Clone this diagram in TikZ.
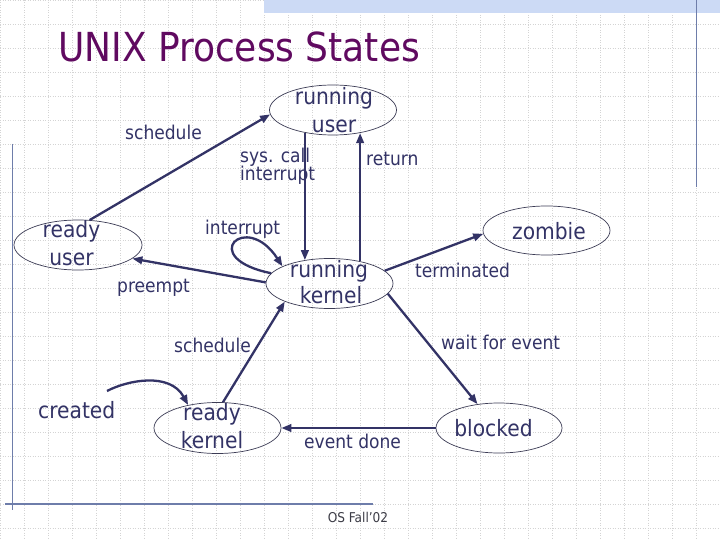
\documentclass[tikz,border=0pt]{standalone}
\usepackage{fontspec}
\setmainfont{DejaVu Sans Condensed}
\usetikzlibrary{shapes.geometric,arrows.meta}
\definecolor{navy}{RGB}{51,51,102}
\definecolor{ttl}{RGB}{96,10,96}
\definecolor{gridc}{RGB}{212,212,212}
\definecolor{band}{RGB}{204,218,245}
\definecolor{framec}{RGB}{110,125,170}
\definecolor{ell}{RGB}{60,60,85}
\definecolor{foot}{RGB}{60,60,70}
\begin{document}
\begin{tikzpicture}[x=1pt,y=-1pt,
  gridline/.style={draw=gridc, line width=0.5pt, dash pattern=on 1pt off 1.5pt},
  framel/.style={draw=framec, line width=1.3pt},
  state/.style={ellipse, draw=ell, line width=0.7pt, inner sep=0pt, minimum width=127pt, minimum height=50pt},
  stxt/.style={text=navy, font=\fontsize{22.5}{27}\selectfont, inner sep=0pt, anchor=base},
  lbl/.style={text=navy, font=\fontsize{19}{23}\selectfont, inner sep=0pt, anchor=base west},
  arr/.style={draw=navy, line width=2.3pt, -{Triangle[length=10pt,width=7.5pt]}},
  ]
\useasboundingbox (0,0) rectangle (720,540);
\fill[white] (0,0) rectangle (720,540);
% grid
\foreach \i in {0,...,30} \draw[gridline] (24*\i,0) -- (24*\i,540);
\foreach \j in {0,...,22} \draw[gridline] (0,24*\j) -- (720,24*\j);
% slide decoration
\fill[band] (264,0) rectangle (720,13);
\draw[framel] (696.5,0) -- (696.5,187);
\draw[framel] (12.5,144) -- (12.5,510);
\draw[framel] (5,504) -- (373,504);
% title
\node[anchor=base west, text=ttl, font=\fontsize{40}{48}\selectfont, inner sep=0pt] (title) at (58,62) {UNIX Process States};
% states
\node[state] (runu) at (333,110) {};
\node[state, minimum width=128pt] (ruser) at (78,245) {};
\node[state] (rk) at (329.5,283.5) {};
\node[state, minimum height=49pt] (zomb) at (546.5,230.5) {};
\node[state, minimum height=51pt] (rkern) at (217.5,428) {};
\node[state, minimum width=126pt] (blk) at (499,428) {};
% state texts
\node[stxt] (runu1) at (334,105) {running};
\node[stxt] (runu2) at (334,133) {user};
\node[stxt] (ruser1) at (71.5,237) {ready};
\node[stxt] (ruser2) at (71.5,265) {user};
\node[stxt] (rk1) at (329,277) {running};
\node[stxt] (rk2) at (331,303) {kernel};
\node[stxt] (zomb1) at (549,240) {zombie};
\node[stxt] (rkern1) at (212,420) {ready};
\node[stxt] (rkern2) at (212,448) {kernel};
\node[stxt] (blk1) at (493.5,436) {blocked};
\node[stxt, anchor=base west] (created) at (38,418) {created};
% labels
\node[lbl] (l1) at (125,140) {schedule};
\node[lbl] (l2) at (240,163) {sys. call};
\node[lbl] (l3) at (240,181) {interrupt};
\node[lbl] (l4) at (366,166) {return};
\node[lbl] (l5) at (205,234) {interrupt};
\node[lbl] (l6) at (117,292) {preempt};
\node[lbl] (l7) at (415,277) {terminated};
\node[lbl] (l8) at (441,349) {wait for event};
\node[lbl] (l9) at (174,352) {schedule};
\node[lbl] (l10) at (304,448) {event done};
\node[anchor=base, text=foot, font=\fontsize{13.5}{16}\selectfont, inner sep=0pt] (foot) at (358,522) {OS Fall'02};
% connectors
\draw[arr] (ruser.65) -- (runu.184);
\draw[arr] (runu.219) -- (runu.219 |- rk.137);
\draw[arr] (rk.36) -- (rk.36 |- runu.319);
\draw[arr] (rk.179) -- (ruser.346);
\draw[arr] (rk.170) .. controls (196,258) and (246,210) .. (rk.160);
\draw[arr] (rk.13) -- (zomb.183);
\draw[arr] (rk.-10) -- (blk.132);
\draw[arr] (blk.west) -- (rkern.east);
\draw[arr] (rkern.78) -- (rk.202);
\coordinate (cst) at (107,391);
\draw[arr] (cst) .. controls (128,380) and (170,372) .. (rkern.142);
\end{tikzpicture}
\end{document}
